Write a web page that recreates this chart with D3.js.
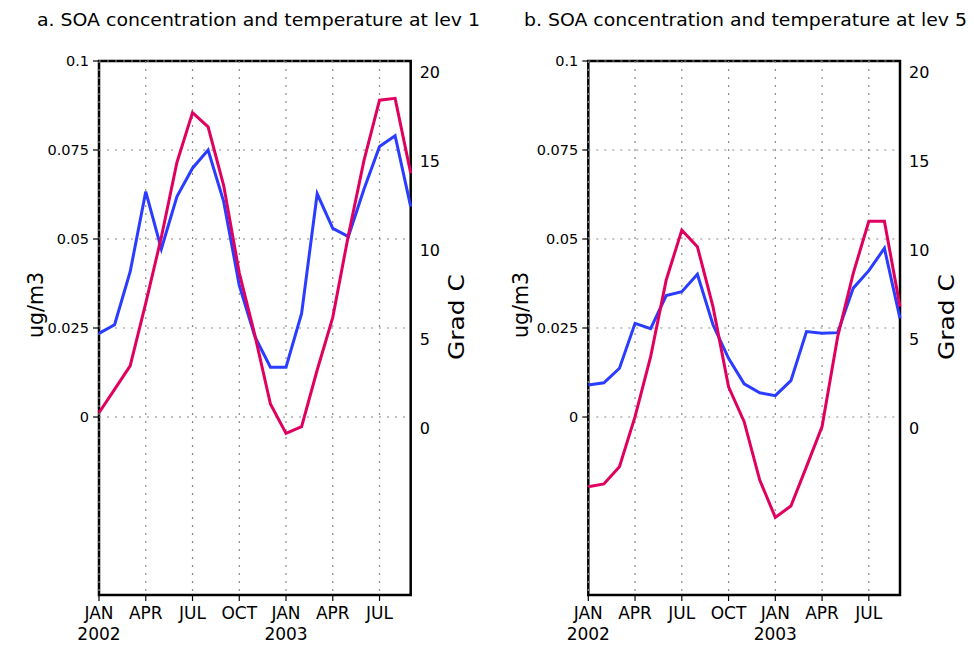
<!DOCTYPE html>
<html>
<head>
<meta charset="utf-8">
<script src="https://cdn.jsdelivr.net/npm/d3@7"></script>
<style>
  body { margin: 0; background: #fff; }
  text { font-family: 'DejaVu Sans', sans-serif; fill: #000; }
</style>
</head>
<body>
<script>
var width = 974;
var height = 645;

// monthly steps, JAN 2002 .. SEP 2003
var steps = d3.range(21);
var tickIdx = [0, 3, 6, 9, 12, 15, 18];
var tickMonths = ['JAN', 'APR', 'JUL', 'OCT', 'JAN', 'APR', 'JUL'];
var tickYears = ['2002', '', '', '', '2003', '', ''];
var soaTicks = [0, 0.025, 0.05, 0.075, 0.1];
var tempTicks = [0, 5, 10, 15, 20];

var soaLev1 = [0.0235, 0.0259, 0.0408, 0.0633, 0.0472, 0.0619, 0.0699, 0.0750, 0.0605, 0.0370, 0.0226,
               0.0140, 0.0140, 0.0291, 0.0627, 0.0530, 0.0507, 0.0640, 0.0760, 0.0790, 0.0591];
var tempLev1 = [0.24, 1.55, 2.87, 6.4, 10.1, 14.3, 17.1, 16.3, 13.0, 8.1, 4.6,
                0.73, -0.92, -0.54, 2.64, 5.6, 10.2, 14.4, 17.8, 17.9, 13.7];
var soaLev5 = [0.0090, 0.0096, 0.0137, 0.0263, 0.0248, 0.0341, 0.0352, 0.0401, 0.0259, 0.0165, 0.0093,
               0.0068, 0.0060, 0.0102, 0.0240, 0.0235, 0.0237, 0.0362, 0.0411, 0.0474, 0.0277];
var tempLev5 = [-3.92, -3.76, -2.79, 0.02, 3.39, 7.7, 10.5, 9.57, 6.2, 1.7, -0.26,
                -3.54, -5.64, -5.0, -2.79, -0.54, 4.51, 8.07, 11.0, 11.0, 6.2];

var panels = [
  {title: 'a. SOA concentration and temperature at lev 1', x0: 99, x1: 410.7, tx: 37, soa: soaLev1, temp: tempLev1, ylab: 33, rlab: 456},
  {title: 'b. SOA concentration and temperature at lev 5', x0: 588.3, x1: 900, tx: 524, soa: soaLev5, temp: tempLev5, ylab: 518, rlab: 946}
];

var svg = d3.select('body').append('svg')
    .attr('width', width)
    .attr('height', height)

var plotTop = 61, plotBottom = 595;

panels.forEach(p => {
    var x = d3.scaleLinear().domain([0, 20]).range([p.x0, p.x1]);
    var y = d3.scaleLinear().domain([-0.05, 0.1]).range([plotBottom, plotTop]);
    var yT = d3.scaleLinear().domain([-10, 20]).range([plotBottom, plotTop]);
    var g = svg.append('g');

    // title
    g.append('text')
        .attr('x', p.tx).attr('y', 26)
        .attr('font-size', 18)
        .attr('textLength', 443).attr('lengthAdjust', 'spacingAndGlyphs')
        .text(p.title);

    // frame
    g.append('rect')
        .attr('x', p.x0).attr('y', plotTop)
        .attr('width', p.x1 - p.x0).attr('height', plotBottom - plotTop)
        .attr('fill', 'none').attr('stroke', '#000').attr('stroke-width', 2.5);

    // grid
    g.selectAll('.hg').data(soaTicks).enter().append('line')
        .attr('x1', p.x0).attr('x2', p.x1)
        .attr('y1', d => y(d)).attr('y2', d => y(d))
        .attr('stroke', '#8a8a8a').attr('stroke-width', 1.2)
        .attr('stroke-dasharray', '2,6');
    g.selectAll('.vg').data(tickIdx).enter().append('line')
        .attr('x1', d => x(d)).attr('x2', d => x(d))
        .attr('y1', plotTop).attr('y2', plotBottom)
        .attr('stroke', '#8a8a8a').attr('stroke-width', 1.2)
        .attr('stroke-dasharray', '2,6');

    // left axis ticks + labels
    g.selectAll('.lt').data(soaTicks).enter().append('line')
        .attr('x1', p.x0 - 6).attr('x2', p.x0)
        .attr('y1', d => y(d)).attr('y2', d => y(d))
        .attr('stroke', '#000').attr('stroke-width', 1.2);
    g.selectAll('.ll').data(soaTicks).enter().append('text')
        .attr('x', p.x0 - 10).attr('y', d => y(d) + 5)
        .attr('text-anchor', 'end').attr('font-size', 14.5)
        .text(d => d3.format('~g')(d));

    // right axis labels (offset below gridlines)
    g.selectAll('.rl').data(tempTicks).enter().append('text')
        .attr('x', p.x1 + 9).attr('y', d => yT(d) + 17)
        .attr('font-size', 16)
        .text(d => d);

    // bottom ticks + labels
    g.selectAll('.bt').data(tickIdx).enter().append('line')
        .attr('x1', d => x(d)).attr('x2', d => x(d))
        .attr('y1', plotBottom).attr('y2', plotBottom + 6)
        .attr('stroke', '#000').attr('stroke-width', 1.2);
    g.selectAll('.bm').data(tickIdx).enter().append('text')
        .attr('x', d => x(d)).attr('y', 619)
        .attr('text-anchor', 'middle').attr('font-size', 17)
        .text((d, i) => tickMonths[i]);
    g.selectAll('.by').data(tickIdx).enter().append('text')
        .attr('x', d => x(d)).attr('y', 640)
        .attr('text-anchor', 'middle').attr('font-size', 17)
        .text((d, i) => tickYears[i]);

    // axis titles
    g.append('text')
        .attr('transform', 'translate(' + (p.ylab + 10) + ',305) rotate(-90)')
        .attr('text-anchor', 'middle').attr('font-size', 21)
        .attr('textLength', 66).attr('lengthAdjust', 'spacingAndGlyphs')
        .text('ug/m3');
    g.append('text')
        .attr('transform', 'translate(' + (p.rlab + 8) + ',317) rotate(-90)')
        .attr('text-anchor', 'middle').attr('font-size', 21)
        .attr('textLength', 86).attr('lengthAdjust', 'spacingAndGlyphs')
        .text('Grad C');

    // series
    var soaLine = d3.line().x((d, i) => x(i)).y(d => y(d));
    var tempLine = d3.line().x((d, i) => x(i)).y(d => yT(d));
    g.append('path').datum(p.soa)
        .attr('d', soaLine)
        .attr('fill', 'none').attr('stroke', '#2a3cff').attr('stroke-width', 3)
        .attr('stroke-linejoin', 'miter');
    g.append('path').datum(p.temp)
        .attr('d', tempLine)
        .attr('fill', 'none').attr('stroke', '#e0005f').attr('stroke-width', 3)
        .attr('stroke-linejoin', 'miter');
})
</script>
</body>
</html>
